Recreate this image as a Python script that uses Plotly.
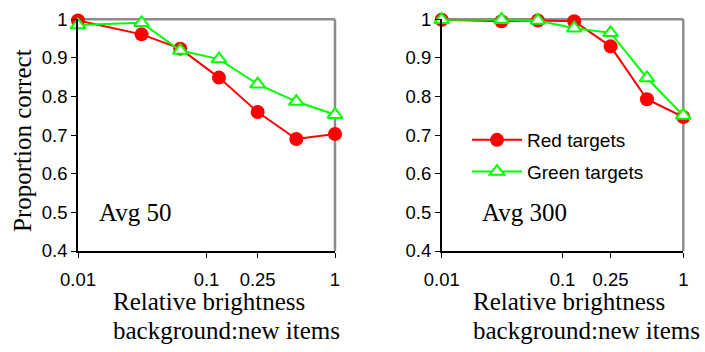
import plotly.graph_objects as go

W, H = 705, 352

# ---- data ----
brightness = [0.01, 0.03125, 0.0625, 0.125, 0.25, 0.5, 1.0]
avg50_red = [0.997, 0.961, 0.924, 0.849, 0.760, 0.690, 0.703]
avg50_green = [0.985, 0.991, 0.919, 0.897, 0.832, 0.787, 0.753]
avg300_red = [0.999, 0.995, 0.997, 0.995, 0.930, 0.793, 0.747]
avg300_green = [0.999, 0.999, 0.997, 0.977, 0.965, 0.848, 0.751]

x_tickvals = [0.01, 0.1, 0.25, 1]
x_ticktext = ["0.01", "0.1", "0.25", "1"]
y_tickvals = [0.4, 0.5, 0.6, 0.7, 0.8, 0.9, 1.0]
y_ticktext = ["0.4", "0.5", "0.6", "0.7", "0.8", "0.9", "1"]
panel_labels = ["Avg 50", "Avg 300"]
series_names = ["Red targets", "Green targets"]
x_title_lines = ["Relative brightness", "background:new items"]
y_title = "Proportion correct"

RED = "#ff0000"
GREEN = "#00ff00"
SANS = "Liberation Sans, Arial, sans-serif"
SERIF = "Liberation Serif, Times New Roman, serif"


def px_x(p):
    return p / W


def px_y(p):
    return 1 - p / H


fig = go.Figure()

panels = [("x", "y", avg50_red, avg50_green), ("x2", "y2", avg300_red, avg300_green)]
for i, (xa, ya, red, green) in enumerate(panels):
    fig.add_trace(go.Scatter(
        x=brightness, y=red, xaxis=xa, yaxis=ya, mode="lines+markers",
        name=series_names[0], legendgroup="red", showlegend=(i == 1),
        line=dict(color=RED, width=2),
        marker=dict(symbol="circle", size=14, color=RED),
        cliponaxis=False,
    ))
    fig.add_trace(go.Scatter(
        x=brightness, y=green, xaxis=xa, yaxis=ya, mode="lines+markers",
        name=series_names[1], legendgroup="green", showlegend=(i == 1),
        line=dict(color=GREEN, width=2),
        marker=dict(symbol="triangle-up", size=13, color="white",
                    line=dict(color=GREEN, width=2)),
        cliponaxis=False,
    ))

xdom = [[px_x(78), px_x(335)], [px_x(441.7), px_x(683.3)]]
ydom = [px_y(251), px_y(19.3)]

common_x = dict(type="log", range=[-2, 0], tickvals=x_tickvals, ticktext=x_ticktext,
                showgrid=False, zeroline=False, showline=True, linecolor="black",
                linewidth=1.5, ticks="outside", ticklen=5, tickcolor="black",
                tickwidth=1.2, tickfont=dict(family=SANS, size=18.5, color="black"),
                ticklabelstandoff=6, automargin=False)
common_y = dict(range=[0.4, 1.0], tickvals=y_tickvals, ticktext=y_ticktext,
                showgrid=False, zeroline=False, showline=True, linecolor="black",
                linewidth=1.5, ticks="outside", ticklen=5, tickcolor="black",
                tickwidth=1.2, tickfont=dict(family=SANS, size=18.5, color="black"),
                automargin=False)

fig.update_layout(
    width=W, height=H,
    margin=dict(l=0, r=0, t=0, b=0),
    paper_bgcolor="white", plot_bgcolor="white",
    xaxis=dict(domain=xdom[0], anchor="y", **common_x),
    yaxis=dict(domain=ydom, anchor="x", **common_y),
    xaxis2=dict(domain=xdom[1], anchor="y2", **common_x),
    yaxis2=dict(domain=ydom, anchor="x2", **common_y),
    legend=dict(x=px_x(467), y=px_y(121), xanchor="left", yanchor="top",
                font=dict(family=SANS, size=19, color="black"),
                bgcolor="rgba(0,0,0,0)", itemwidth=50, tracegroupgap=4),
    showlegend=True,
)

# grey top/right borders of each plot box
for xa, ya in [("x", "y"), ("x2", "y2")]:
    fig.add_shape(type="line", xref=f"{xa} domain", yref=f"{ya} domain",
                  x0=0, x1=1, y0=1, y1=1, line=dict(color="#8c8c8c", width=2.5), layer="below")
    fig.add_shape(type="line", xref=f"{xa} domain", yref=f"{ya} domain",
                  x0=1, x1=1, y0=0, y1=1, line=dict(color="#8c8c8c", width=2.5), layer="below")

# panel labels
fig.add_annotation(x=-1.853, y=0.5, xref="x", yref="y", text=panel_labels[0],
                   showarrow=False, xanchor="left", yanchor="middle",
                   font=dict(family=SERIF, size=25, color="black"))
fig.add_annotation(x=-1.68, y=0.5, xref="x2", yref="y2", text=panel_labels[1],
                   showarrow=False, xanchor="left", yanchor="middle",
                   font=dict(family=SERIF, size=25, color="black"))

# x axis titles (left aligned, two lines)
for left in [112, 472]:
    for k, line_text in enumerate(x_title_lines):
        fig.add_annotation(x=px_x(left), y=px_y(287 + 28.7 * k), xref="paper", yref="paper",
                           text=line_text, showarrow=False, xanchor="left", yanchor="top",
                           borderpad=0,
                           font=dict(family=SERIF, size=25, color="black"))

# y axis title
fig.add_annotation(x=px_x(22), y=px_y(141), xref="paper", yref="paper",
                   text=y_title, textangle=-90, showarrow=False,
                   xanchor="center", yanchor="middle",
                   font=dict(family=SERIF, size=25, color="black"))

fig.write_html("out.html", config={"displayModeBar": False},
               post_script="document.body.style.margin='0';")
